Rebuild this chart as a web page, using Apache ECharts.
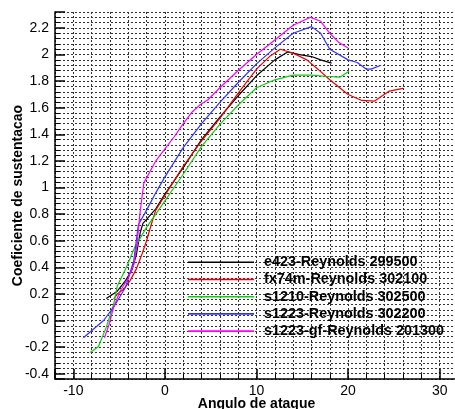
<!DOCTYPE html>
<html><head><meta charset="utf-8">
<script src="https://cdn.jsdelivr.net/npm/echarts@6/dist/echarts.min.js"></script>
<style>html,body{margin:0;padding:0;background:#fff}#c{width:455px;height:409px}</style>
</head><body><div id="c"></div>
<script>
const seriesNames = ['e423-Reynolds 299500','fx74m-Reynolds 302100','s1210-Reynolds 302500','s1223-Reynolds 302200','s1223-gf-Reynolds 201300'];
const seriesColors = ['#000000','#ee0000','#11cc11','#3333ff','#ff00ff'];
const e423 = [[-6.4,0.165],[-5.2,0.22],[-4.3,0.30],[-3.6,0.38],[-3.1,0.50],[-2.7,0.66],[-2.4,0.73],[-2,0.76],[-1,0.84],[0,0.95],[1,1.05],[2,1.15],[4,1.36],[6,1.53],[8,1.69],[10,1.84],[12,1.96],[13.4,2.02],[14.7,2.0],[16,1.985],[17,1.96],[18.2,1.935]];
const fx74m = [[-5.6,0.16],[-5.2,0.20],[-4.5,0.235],[-3.8,0.30],[-3.1,0.39],[-2.5,0.50],[-2,0.60],[-1.5,0.72],[-1,0.83],[0,0.94],[1,1.05],[2,1.16],[4,1.35],[6,1.52],[8,1.71],[10,1.89],[11.5,1.99],[12.6,2.04],[14,2.01],[15.5,1.96],[16.7,1.89],[18,1.81],[20,1.70],[21.5,1.655],[22.9,1.65],[24.5,1.725],[26,1.745]];
const s1210 = [[-8.15,-0.24],[-7.25,-0.195],[-6.4,-0.05],[-5.6,0.12],[-5.2,0.26],[-4.2,0.40],[-3.3,0.55],[-2,0.70],[-1,0.80],[0,0.90],[1,1.0],[2,1.10],[4,1.31],[6,1.475],[8,1.62],[10,1.75],[12,1.81],[14,1.845],[16,1.845],[17.7,1.835],[19.1,1.83],[20.1,1.875]];
const s1223 = [[-8.9,-0.13],[-6.7,0.0],[-5.6,0.10],[-4.3,0.25],[-3.4,0.45],[-2.9,0.72],[-2,0.83],[-1,0.96],[0,1.08],[2,1.30],[4,1.48],[6,1.64],[8,1.79],[10,1.93],[12,2.05],[14,2.16],[16,2.21],[17,2.16],[18,2.04],[20,1.96],[21,1.94],[22,1.89],[22.5,1.89],[23.6,1.92]];
const s1223gf = [[-6.6,-0.13],[-6.1,-0.03],[-5.6,0.10],[-4.9,0.22],[-4.0,0.32],[-3.4,0.42],[-3.05,0.57],[-2.7,0.82],[-2.3,1.035],[-1,1.2],[0,1.29],[1,1.38],[2,1.48],[3,1.57],[3.8,1.62],[4.7,1.66],[6,1.75],[8,1.88],[10,2.0],[12,2.11],[14,2.22],[15.9,2.28],[17,2.25],[18,2.16],[19,2.09],[20,2.05]];
const seriesData = [e423, fx74m, s1210, s1223, s1223gf];
const xRange = [-12, 32];
const yRange = [-0.44, 2.32];
const xAxisTitle = 'Angulo de ataque';
const yAxisTitle = 'Coeficiente de sustentacao';

const font = '"Liberation Sans", Arial, Helvetica, sans-serif';
const gridLine = {show:true, lineStyle:{color:'#333', width:1, type:[2,2]}};
const chart = echarts.init(document.getElementById('c'), null, {renderer:'canvas'});
chart.setOption({
  animation:false,
  backgroundColor:'#fff',
  grid:{left:55, top:12, bottom:30, right:-3, containLabel:false, outerBoundsMode:'none'},
  xAxis:{type:'value', min:xRange[0], max:xRange[1], splitNumber:4,
    name:xAxisTitle, nameLocation:'middle', nameGap:18, nameMoveOverlap:false,
    nameTextStyle:{fontFamily:font, fontSize:14, fontWeight:'bold', color:'#000'},
    axisLine:{onZero:false, lineStyle:{color:'#000', width:1.5}},
    axisTick:{inside:true, length:10, lineStyle:{color:'#000', width:1.5}},
    minorTick:{show:true, splitNumber:5, length:5, lineStyle:{color:'#000', width:1}},
    axisLabel:{fontFamily:font, fontSize:14, color:'#000', margin:5, showMinLabel:false, showMaxLabel:false},
    splitLine:gridLine, minorSplitLine:gridLine},
  yAxis:{type:'value', min:yRange[0], max:yRange[1], splitNumber:14,
    name:yAxisTitle, nameLocation:'middle', nameGap:30, nameMoveOverlap:false,
    nameTextStyle:{fontFamily:font, fontSize:14, fontWeight:'bold', color:'#000'},
    axisLine:{onZero:false, lineStyle:{color:'#000', width:1.5}},
    axisTick:{inside:true, length:10, lineStyle:{color:'#000', width:1.5}},
    minorTick:{show:true, splitNumber:5, length:5, lineStyle:{color:'#000', width:1}},
    axisLabel:{fontFamily:font, fontSize:14, color:'#000', margin:6, showMinLabel:false, showMaxLabel:false},
    splitLine:gridLine, minorSplitLine:gridLine},
  legend:{orient:'vertical', left:188, top:253.7, padding:0, itemGap:0, itemWidth:66, itemHeight:1.6,
    icon:'rect', selectedMode:false, data:seriesNames,
    textStyle:{fontFamily:font, fontSize:14.4, fontWeight:'bold', color:'#000', lineHeight:17.2, padding:[0,0,0,5]}},
  series: seriesNames.map((n,i)=>({name:n, type:'line', data:seriesData[i], symbol:'none', smooth:false,
    lineStyle:{color:seriesColors[i], width:1.2}, itemStyle:{color:seriesColors[i]}}))
});
</script></body></html>
